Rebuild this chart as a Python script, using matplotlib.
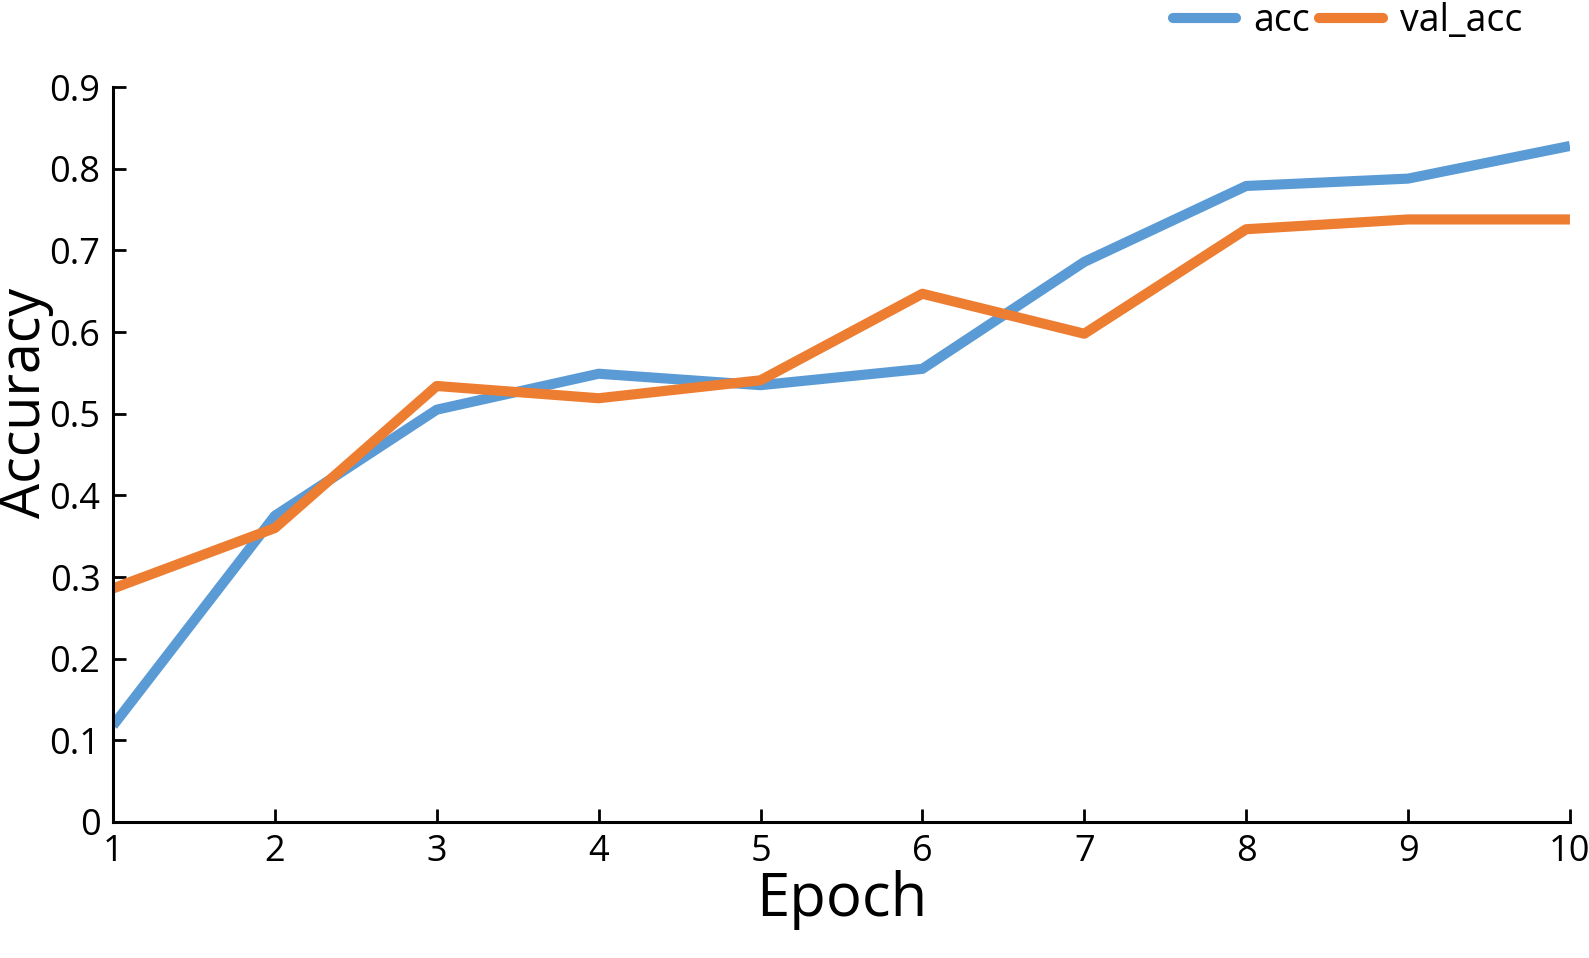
import matplotlib
matplotlib.use("Agg")
import matplotlib.pyplot as plt

# values
epochs = [1, 2, 3, 4, 5, 6, 7, 8, 9, 10]
acc = [0.118, 0.375, 0.505, 0.549, 0.535, 0.555, 0.686, 0.779, 0.788, 0.828]
val_acc = [0.286, 0.360, 0.534, 0.519, 0.541, 0.647, 0.598, 0.726, 0.738, 0.738]
yticks = [0, 0.1, 0.2, 0.3, 0.4, 0.5, 0.6, 0.7, 0.8, 0.9]
ytick_labels = ["0", "0.1", "0.2", "0.3", "0.4", "0.5", "0.6", "0.7", "0.8", "0.9"]

plt.rcParams['font.family'] = ['Open Sans', 'DejaVu Sans']

fig = plt.figure(figsize=(15.89, 9.58), dpi=100)
ax = fig.add_axes([0.0711, 0.142, 0.9169, 0.767])

ax.plot(epochs, acc, color='#5B9BD5', lw=7.3, label='acc', solid_capstyle='butt')
ax.plot(epochs, val_acc, color='#ED7D31', lw=7.3, label='val_acc', solid_capstyle='butt')

ax.set_xlim(1, 10)
ax.set_ylim(0, 0.9)
ax.set_xticks(epochs)
ax.set_yticks(yticks)
ax.set_yticklabels(ytick_labels)

for side in ['top', 'right']:
    ax.spines[side].set_visible(False)
for side in ['left', 'bottom']:
    ax.spines[side].set_linewidth(2.2)
ax.tick_params(direction='in', length=9.5, width=2, labelsize=26)
ax.tick_params(axis='x', pad=9)
ax.tick_params(axis='y', pad=9)

ax.set_xlabel('Epoch', fontsize=43, labelpad=0)
ax.set_ylabel('Accuracy', fontsize=40)
ax.yaxis.set_label_coords(-0.0405, 0.57)

leg = fig.legend(ncol=2, loc='center right', bbox_to_anchor=(0.958, 0.978), frameon=False,
                 fontsize=27, handlelength=1.7, columnspacing=0.25, handletextpad=0.45,
                 borderaxespad=0, borderpad=0)
for line in leg.get_lines():
    line.set_linewidth(7.3)
    line.set_solid_capstyle('round')

fig.savefig('out.png', dpi=100)
